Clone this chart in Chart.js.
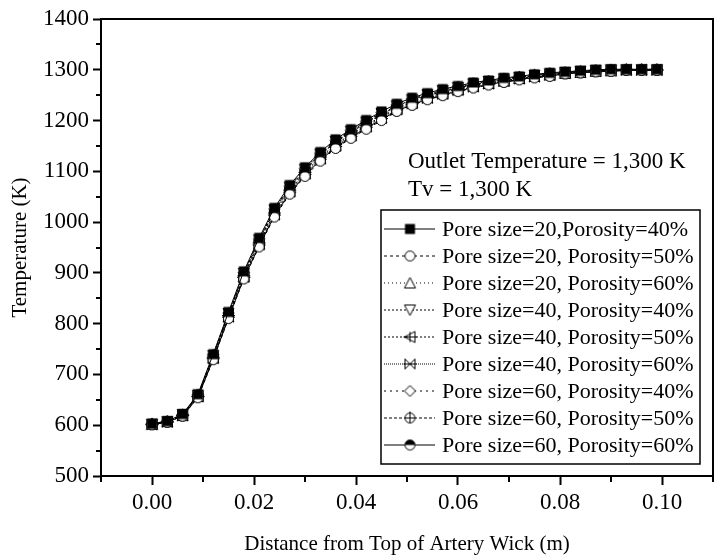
<!DOCTYPE html>
<html>
<head>
<meta charset="utf-8">
<script src="https://cdn.jsdelivr.net/npm/chart.js@4.4.1/dist/chart.umd.min.js"></script>
<style>
html, body { margin: 0; padding: 0; background: #fff; }
#wrap { width: 722px; height: 557px; }
</style>
</head>
<body>
<div id="wrap"><canvas id="chart" width="722" height="557"></canvas></div>
<script>
// distance from top of artery wick (m)
const distance = [0, 0.003, 0.006, 0.009, 0.012, 0.015, 0.018, 0.021, 0.024, 0.027, 0.030, 0.033,
  0.036, 0.039, 0.042, 0.045, 0.048, 0.051, 0.054, 0.057, 0.060, 0.063, 0.066, 0.069, 0.072,
  0.075, 0.078, 0.081, 0.084, 0.087, 0.090, 0.093, 0.096, 0.099];

const xTicks = [0, 0.02, 0.04, 0.06, 0.08, 0.10];
const xMinor = [-0.01, 0.01, 0.03, 0.05, 0.07, 0.09, 0.11];
const yTicks = [500, 600, 700, 800, 900, 1000, 1100, 1200, 1300, 1400];
const yMinor = [550, 650, 750, 850, 950, 1050, 1150, 1250, 1350];

const seriesLabels = [
  'Pore size=20,Porosity=40%',
  'Pore size=20, Porosity=50%',
  'Pore size=20, Porosity=60%',
  'Pore size=40, Porosity=40%',
  'Pore size=40, Porosity=50%',
  'Pore size=40, Porosity=60%',
  'Pore size=60, Porosity=40%',
  'Pore size=60, Porosity=50%',
  'Pore size=60, Porosity=60%'
];

// temperature (K)
const p20_40 = [603, 608, 622, 661, 740, 823, 903, 969, 1028, 1073, 1108, 1138, 1163, 1183, 1201, 1218, 1233, 1245, 1254, 1262, 1268, 1275, 1279, 1284, 1287, 1291, 1294, 1296, 1298, 1300, 1301, 1301, 1301, 1301];
const p20_50 = [601, 606, 618, 654, 729, 810, 888, 951, 1010, 1055, 1090, 1120, 1145, 1165, 1183, 1200, 1218, 1230, 1241, 1249, 1257, 1264, 1270, 1275, 1280, 1284, 1287, 1292, 1294, 1296, 1297, 1299, 1299, 1299];
const p20_60 = [602, 607, 619, 657, 733, 814, 893, 957, 1016, 1061, 1096, 1126, 1151, 1171, 1189, 1206, 1223, 1235, 1245, 1253, 1261, 1268, 1273, 1278, 1283, 1287, 1290, 1293, 1295, 1297, 1298, 1300, 1300, 1300];
const p40_40 = [602, 607, 621, 659, 737, 820, 899, 965, 1024, 1069, 1104, 1134, 1159, 1179, 1197, 1214, 1229, 1241, 1251, 1259, 1265, 1272, 1277, 1282, 1285, 1289, 1292, 1295, 1297, 1299, 1300, 1300, 1300, 1300];
const p40_50 = [602, 607, 620, 657, 734, 816, 894, 959, 1018, 1063, 1098, 1128, 1153, 1173, 1191, 1208, 1224, 1236, 1247, 1255, 1262, 1269, 1274, 1279, 1283, 1287, 1290, 1294, 1296, 1298, 1299, 1300, 1300, 1300];
const p40_60 = [601, 606, 619, 656, 731, 813, 891, 955, 1014, 1059, 1094, 1124, 1149, 1169, 1187, 1204, 1221, 1233, 1244, 1252, 1259, 1266, 1272, 1277, 1282, 1286, 1289, 1293, 1295, 1297, 1298, 1299, 1299, 1299];
const p60_40 = [603, 608, 621, 660, 739, 821, 901, 967, 1026, 1071, 1106, 1136, 1161, 1181, 1199, 1216, 1231, 1243, 1252, 1260, 1267, 1274, 1278, 1283, 1286, 1290, 1293, 1295, 1297, 1299, 1300, 1301, 1301, 1301];
const p60_50 = [602, 607, 620, 659, 736, 818, 898, 963, 1022, 1067, 1102, 1132, 1157, 1177, 1195, 1212, 1228, 1240, 1249, 1257, 1264, 1271, 1276, 1281, 1285, 1289, 1292, 1294, 1296, 1298, 1299, 1300, 1300, 1300];
const p60_60 = [601, 606, 618, 655, 730, 811, 889, 953, 1012, 1057, 1092, 1122, 1147, 1167, 1185, 1202, 1219, 1231, 1242, 1250, 1258, 1265, 1271, 1276, 1281, 1285, 1288, 1292, 1294, 1296, 1297, 1299, 1299, 1299];

const allSeries = [p20_40, p20_50, p20_60, p40_40, p40_50, p40_60, p60_40, p60_50, p60_60];
const markerKinds = ['square', 'circle', 'triUp', 'triDown', 'triLeft', 'bowtie', 'diamond', 'circlePlus', 'halfCircle'];
const dashes = [[], [3, 3], [1, 3], [2, 2], [2, 2], [1, 1], [2, 4], [3, 2], []];

const FONT = "'Liberation Serif', 'Times New Roman', serif";
Chart.defaults.font.family = FONT;
Chart.defaults.color = '#000';

function makeMarker(kind) {
  const c = document.createElement('canvas');
  c.width = 15; c.height = 15;
  const g = c.getContext('2d');
  g.translate(7.5, 7.5);
  g.lineWidth = 1;
  g.strokeStyle = '#000';
  g.fillStyle = '#fff';
  const r = 5;
  g.beginPath();
  if (kind === 'square') {
    g.fillStyle = '#000';
    g.fillRect(-r, -r, 2 * r, 2 * r);
    return c;
  } else if (kind === 'circle') {
    g.arc(0, 0, r, 0, Math.PI * 2);
  } else if (kind === 'triUp') {
    g.moveTo(0, -r - 0.5); g.lineTo(r + 0.5, r); g.lineTo(-r - 0.5, r); g.closePath();
  } else if (kind === 'triDown') {
    g.moveTo(0, r + 0.5); g.lineTo(r + 0.5, -r); g.lineTo(-r - 0.5, -r); g.closePath();
  } else if (kind === 'triLeft') {
    g.moveTo(-r - 0.5, 0); g.lineTo(r, -r - 0.5); g.lineTo(r, r + 0.5); g.closePath();
    g.fill(); g.stroke();
    g.beginPath();
    g.moveTo(-r - 1.5, 0); g.lineTo(r + 1.5, 0);
    g.moveTo(0, -r); g.lineTo(0, r);
    g.stroke();
    return c;
  } else if (kind === 'bowtie') {
    g.moveTo(-r, -r); g.lineTo(r, r); g.lineTo(r, -r); g.lineTo(-r, r); g.closePath();
    g.fill(); g.stroke();
    g.beginPath();
    g.moveTo(-r, -r); g.lineTo(-r, r);
    g.moveTo(-r - 1.5, 0); g.lineTo(r + 1.5, 0);
    g.stroke();
    return c;
  } else if (kind === 'diamond') {
    g.moveTo(0, -r - 0.5); g.lineTo(r + 0.5, 0); g.lineTo(0, r + 0.5); g.lineTo(-r - 0.5, 0); g.closePath();
  } else if (kind === 'circlePlus') {
    g.arc(0, 0, r, 0, Math.PI * 2);
    g.fill(); g.stroke();
    g.beginPath();
    g.moveTo(0, -r - 1.5); g.lineTo(0, r);
    g.moveTo(-r, 0); g.lineTo(r, 0);
    g.stroke();
    return c;
  } else if (kind === 'halfCircle') {
    g.arc(0, 0, r, 0, Math.PI * 2);
    g.fill(); g.stroke();
    g.beginPath();
    g.fillStyle = '#000';
    g.arc(0, 0, r, Math.PI, Math.PI * 2);
    g.closePath();
    g.fill();
    return c;
  }
  g.fill();
  g.stroke();
  return c;
}

const markers = markerKinds.map(makeMarker);

const datasets = allSeries.map((vals, i) => ({
  label: seriesLabels[i],
  data: vals.map((v, j) => ({ x: distance[j], y: v })),
  borderColor: '#000',
  borderWidth: 1,
  borderDash: dashes[i],
  pointStyle: markers[i],
  pointRadius: 5,
  showLine: true,
  fill: false,
  tension: 0
}));

const extras = {
  id: 'extras',
  afterDraw(chart) {
    const ctx = chart.ctx;
    const a = chart.chartArea;
    const xs = chart.scales.x, ys = chart.scales.y;
    ctx.save();
    ctx.strokeStyle = '#000';
    ctx.lineWidth = 2;
    // frame top and right
    ctx.beginPath();
    ctx.moveTo(a.left, a.top); ctx.lineTo(a.right, a.top); ctx.lineTo(a.right, a.bottom);
    ctx.stroke();
    // minor ticks
    ctx.beginPath();
    xMinor.forEach(v => {
      const px = Math.round(xs.getPixelForValue(v));
      ctx.moveTo(px, a.bottom); ctx.lineTo(px, a.bottom + 6);
    });
    yMinor.forEach(v => {
      const py = Math.round(ys.getPixelForValue(v));
      ctx.moveTo(a.left, py); ctx.lineTo(a.left - 5, py);
    });
    ctx.stroke();

    // annotation text
    ctx.fillStyle = '#000';
    ctx.font = '23px ' + FONT;
    ctx.textBaseline = 'middle';
    ctx.textAlign = 'left';
    ctx.fillText('Outlet Temperature = 1,300 K', 408, 162);
    ctx.fillText('Tv = 1,300 K', 408, 190);

    // legend box
    const bx = 381, by = 210, bw = 319, bh = 254;
    ctx.lineWidth = 1.5;
    ctx.strokeRect(bx, by, bw, bh);
    const rowH = 27;
    ctx.font = '22px ' + FONT;
    chart.data.datasets.forEach((ds, i) => {
      const cy = by + 19 + i * rowH;
      ctx.save();
      ctx.lineWidth = 1;
      ctx.setLineDash(dashes[i]);
      ctx.beginPath();
      ctx.moveTo(bx + 3, cy); ctx.lineTo(bx + 54, cy);
      ctx.stroke();
      ctx.restore();
      ctx.drawImage(markers[i], bx + 29 - 7.5, cy - 7.5);
      ctx.fillText(ds.label, bx + 61, cy + 1);
    });
    ctx.restore();
  }
};

new Chart(document.getElementById('chart'), {
  type: 'scatter',
  data: { datasets: datasets },
  plugins: [extras],
  options: {
    responsive: false,
    animation: false,
    events: [],
    layout: { padding: { top: 19, right: 9, left: 0, bottom: 0 } },
    plugins: {
      legend: { display: false },
      tooltip: { enabled: false }
    },
    scales: {
      x: {
        type: 'linear',
        min: -0.01,
        max: 0.11,
        afterBuildTicks: s => { s.ticks = xTicks.map(v => ({ value: v })); },
        afterFit: s => { s.height = 81; },
        border: { display: true, color: '#000', width: 2 },
        grid: { display: true, drawOnChartArea: false, drawTicks: true, tickLength: 9, tickWidth: 2, tickColor: '#000' },
        ticks: {
          color: '#000',
          font: { family: FONT, size: 23 },
          padding: 4,
          maxRotation: 0,
          callback: v => v.toFixed(2)
        },
        title: {
          display: true,
          text: 'Distance from Top of Artery Wick (m)',
          color: '#000',
          font: { family: FONT, size: 21 },
          padding: { top: 5, bottom: 0 }
        }
      },
      y: {
        type: 'linear',
        min: 500,
        max: 1400,
        afterBuildTicks: s => { s.ticks = yTicks.map(v => ({ value: v })); },
        afterFit: s => { s.width = 101; },
        border: { display: true, color: '#000', width: 2 },
        grid: { display: true, drawOnChartArea: false, drawTicks: true, tickLength: 8, tickWidth: 2, tickColor: '#000' },
        ticks: {
          color: '#000',
          font: { family: FONT, size: 23 },
          padding: 4,
          callback: v => String(v)
        },
        title: {
          display: true,
          text: 'Temperature (K)',
          color: '#000',
          font: { family: FONT, size: 21 },
          padding: { top: 8, bottom: 0 }
        }
      }
    }
  }
});
</script>
</body>
</html>
